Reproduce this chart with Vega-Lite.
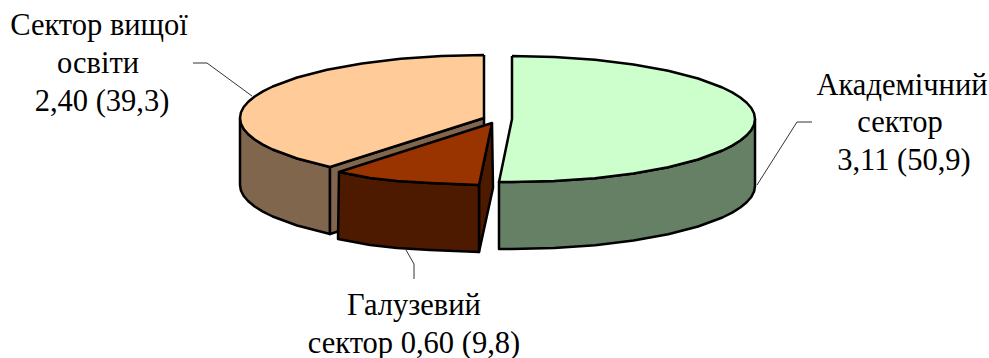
{"$schema":"https://vega.github.io/schema/vega-lite/v6.json","width":989,"height":358,"padding":0,"autosize":{"type":"none"},"background":"white","view":{"stroke":null},
"datasets":{"shapes":[
{"part":"hi-wall","i":0,"x":240,"y":118},{"part":"hi-wall","i":0.5,"x":240.9,"y":123.5},{"part":"hi-wall","i":1,"x":243.7,"y":129},{"part":"hi-wall","i":1.5,"x":248.3,"y":134.3},{"part":"hi-wall","i":2,"x":254.7,"y":139.5},{"part":"hi-wall","i":2.5,"x":262.9,"y":144.6},{"part":"hi-wall","i":3,"x":272.7,"y":149.5},{"part":"hi-wall","i":4,"x":297.1,"y":158.5},{"part":"hi-wall","i":5,"x":330,"y":167},{"part":"hi-wall","i":6,"x":330,"y":234},{"part":"hi-wall","i":7,"x":297.1,"y":225.5},{"part":"hi-wall","i":8,"x":272.7,"y":216.5},{"part":"hi-wall","i":8.5,"x":262.9,"y":211.6},{"part":"hi-wall","i":9,"x":254.7,"y":206.5},{"part":"hi-wall","i":9.5,"x":248.3,"y":201.3},{"part":"hi-wall","i":10,"x":243.7,"y":196},{"part":"hi-wall","i":10.5,"x":240.9,"y":190.5},{"part":"hi-wall","i":11,"x":240,"y":185},{"part":"hi-wall","i":12,"x":240,"y":118},
{"part":"hi-inner","i":0,"x":330,"y":167},{"part":"hi-inner","i":1,"x":484,"y":118},{"part":"hi-inner","i":2,"x":484,"y":185},{"part":"hi-inner","i":3,"x":330,"y":234},{"part":"hi-inner","i":4,"x":330,"y":167},
{"part":"hi-top","i":0,"x":484,"y":55},{"part":"hi-top","i":1,"x":484,"y":118},{"part":"hi-top","i":2,"x":330,"y":167},{"part":"hi-top","i":3,"x":297.1,"y":158.5},{"part":"hi-top","i":4,"x":272.7,"y":149.5},{"part":"hi-top","i":4.5,"x":262.9,"y":144.6},{"part":"hi-top","i":5,"x":254.7,"y":139.5},{"part":"hi-top","i":5.5,"x":248.3,"y":134.3},{"part":"hi-top","i":6,"x":243.7,"y":129},{"part":"hi-top","i":6.5,"x":240.9,"y":123.5},{"part":"hi-top","i":7,"x":240,"y":118},{"part":"hi-top","i":7.5,"x":240.9,"y":112.5},{"part":"hi-top","i":8,"x":243.7,"y":107},{"part":"hi-top","i":8.5,"x":248.3,"y":101.7},{"part":"hi-top","i":9,"x":254.7,"y":96.5},{"part":"hi-top","i":9.5,"x":262.9,"y":91.4},{"part":"hi-top","i":10,"x":272.7,"y":86.5},{"part":"hi-top","i":11,"x":297.1,"y":77.5},{"part":"hi-top","i":12,"x":327.1,"y":69.7},{"part":"hi-top","i":13,"x":362,"y":63.4},{"part":"hi-top","i":14,"x":400.6,"y":58.8},{"part":"hi-top","i":15,"x":441.6,"y":56},{"part":"hi-top","i":16,"x":484,"y":55},
{"part":"ac-wall","i":0,"x":755,"y":119},{"part":"ac-wall","i":0.5,"x":754.1,"y":124.5},{"part":"ac-wall","i":1,"x":751.3,"y":130},{"part":"ac-wall","i":1.5,"x":746.7,"y":135.3},{"part":"ac-wall","i":2,"x":740.3,"y":140.5},{"part":"ac-wall","i":2.5,"x":732.2,"y":145.6},{"part":"ac-wall","i":3,"x":722.4,"y":150.5},{"part":"ac-wall","i":4,"x":698.1,"y":159.5},{"part":"ac-wall","i":5,"x":668.2,"y":167.3},{"part":"ac-wall","i":6,"x":633.5,"y":173.6},{"part":"ac-wall","i":7,"x":595.1,"y":178.2},{"part":"ac-wall","i":8,"x":554.2,"y":181},{"part":"ac-wall","i":9,"x":512,"y":182},{"part":"ac-wall","i":10,"x":499,"y":182},{"part":"ac-wall","i":11,"x":499,"y":249},{"part":"ac-wall","i":12,"x":512,"y":249},{"part":"ac-wall","i":13,"x":554.2,"y":248},{"part":"ac-wall","i":14,"x":595.1,"y":245.2},{"part":"ac-wall","i":15,"x":633.5,"y":240.6},{"part":"ac-wall","i":16,"x":668.2,"y":234.3},{"part":"ac-wall","i":17,"x":698.1,"y":226.5},{"part":"ac-wall","i":18,"x":722.4,"y":217.5},{"part":"ac-wall","i":18.5,"x":732.2,"y":212.6},{"part":"ac-wall","i":19,"x":740.3,"y":207.5},{"part":"ac-wall","i":19.5,"x":746.7,"y":202.3},{"part":"ac-wall","i":20,"x":751.3,"y":197},{"part":"ac-wall","i":20.5,"x":754.1,"y":191.5},{"part":"ac-wall","i":21,"x":755,"y":186},{"part":"ac-wall","i":22,"x":755,"y":119},
{"part":"ac-top","i":0,"x":512,"y":56},{"part":"ac-top","i":1,"x":512,"y":119},{"part":"ac-top","i":2,"x":499,"y":182},{"part":"ac-top","i":3,"x":512,"y":182},{"part":"ac-top","i":4,"x":554.2,"y":181},{"part":"ac-top","i":5,"x":595.1,"y":178.2},{"part":"ac-top","i":6,"x":633.5,"y":173.6},{"part":"ac-top","i":7,"x":668.2,"y":167.3},{"part":"ac-top","i":8,"x":698.1,"y":159.5},{"part":"ac-top","i":9,"x":722.4,"y":150.5},{"part":"ac-top","i":9.5,"x":732.2,"y":145.6},{"part":"ac-top","i":10,"x":740.3,"y":140.5},{"part":"ac-top","i":10.5,"x":746.7,"y":135.3},{"part":"ac-top","i":11,"x":751.3,"y":130},{"part":"ac-top","i":11.5,"x":754.1,"y":124.5},{"part":"ac-top","i":12,"x":755,"y":119},{"part":"ac-top","i":12.5,"x":754.1,"y":113.5},{"part":"ac-top","i":13,"x":751.3,"y":108},{"part":"ac-top","i":13.5,"x":746.7,"y":102.7},{"part":"ac-top","i":14,"x":740.3,"y":97.5},{"part":"ac-top","i":14.5,"x":732.2,"y":92.4},{"part":"ac-top","i":15,"x":722.4,"y":87.5},{"part":"ac-top","i":16,"x":698.1,"y":78.5},{"part":"ac-top","i":17,"x":668.2,"y":70.7},{"part":"ac-top","i":18,"x":633.5,"y":64.4},{"part":"ac-top","i":19,"x":595.1,"y":59.8},{"part":"ac-top","i":20,"x":554.2,"y":57},{"part":"ac-top","i":21,"x":512,"y":56},
{"part":"in-side","i":0,"x":479,"y":185},{"part":"in-side","i":1,"x":492,"y":123},{"part":"in-side","i":2,"x":493,"y":188},{"part":"in-side","i":3,"x":479,"y":252},{"part":"in-side","i":4,"x":479,"y":185},
{"part":"in-front","i":0,"x":339,"y":172},{"part":"in-front","i":1,"x":370,"y":178},{"part":"in-front","i":2,"x":397,"y":181},{"part":"in-front","i":3,"x":430,"y":183},{"part":"in-front","i":4,"x":479,"y":185},{"part":"in-front","i":5,"x":479,"y":252},{"part":"in-front","i":6,"x":430,"y":250},{"part":"in-front","i":7,"x":397,"y":248},{"part":"in-front","i":8,"x":370,"y":245},{"part":"in-front","i":9,"x":338,"y":239},{"part":"in-front","i":10,"x":339,"y":172},
{"part":"in-top","i":0,"x":492,"y":123},{"part":"in-top","i":1,"x":339,"y":172},{"part":"in-top","i":2,"x":370,"y":178},{"part":"in-top","i":3,"x":397,"y":181},{"part":"in-top","i":4,"x":430,"y":183},{"part":"in-top","i":5,"x":479,"y":185},{"part":"in-top","i":6,"x":492,"y":123}
],
"leaders":[
{"sector":"hi","i":0,"x":193,"y":63},{"sector":"hi","i":1,"x":207,"y":63},{"sector":"hi","i":2,"x":252,"y":96},
{"sector":"ac","i":0,"x":812,"y":122},{"sector":"ac","i":1,"x":797,"y":122},{"sector":"ac","i":2,"x":757,"y":185},
{"sector":"in","i":0,"x":406,"y":250},{"sector":"in","i":1,"x":414,"y":264},{"sector":"in","i":2,"x":414,"y":279}
],
"labels":[
{"label":"Сектор вищої","x":99,"y":35},{"label":"освіти","x":98,"y":73},{"label":"2,40 (39,3)","x":102,"y":111},
{"label":"Академічний","x":902,"y":95},{"label":"сектор","x":900,"y":132},{"label":"3,11 (50,9)","x":904,"y":170},
{"label":"Галузевий","x":414,"y":315},{"label":"сектор 0,60 (9,8)","x":414,"y":353}
]},
"layer":[
{"data":{"name":"leaders"},"mark":{"type":"line","stroke":"#333333","strokeWidth":1,"clip":false},"encoding":{"x":{"field":"x","type":"quantitative","scale":{"domain":[0,989]},"axis":null},"y":{"field":"y","type":"quantitative","scale":{"domain":[358,0]},"axis":null},"detail":{"field":"sector"},"order":{"field":"i"}}},
{"data":{"name":"shapes"},"mark":{"type":"line","filled":true,"stroke":"black","strokeWidth":2.5,"strokeJoin":"round","fillOpacity":1,"clip":false},"encoding":{"x":{"field":"x","type":"quantitative","scale":{"domain":[0,989]},"axis":null},"y":{"field":"y","type":"quantitative","scale":{"domain":[358,0]},"axis":null},"detail":{"field":"part"},"order":{"field":"i"},"fill":{"field":"part","type":"nominal","legend":null,"scale":{"domain":["hi-wall","hi-inner","hi-top","ac-wall","ac-top","in-side","in-front","in-top"],"range":["#80664d","#80664d","#ffcc99","#668066","#ccffcc","#4d1a00","#4d1a00","#993300"]}}}},
{"data":{"name":"labels"},"mark":{"type":"text","font":"Liberation Serif","fontSize":30.5,"align":"center","baseline":"alphabetic","color":"black"},"encoding":{"x":{"field":"x","type":"quantitative","scale":{"domain":[0,989]},"axis":null},"y":{"field":"y","type":"quantitative","scale":{"domain":[358,0]},"axis":null},"text":{"field":"label"}}}
]}
